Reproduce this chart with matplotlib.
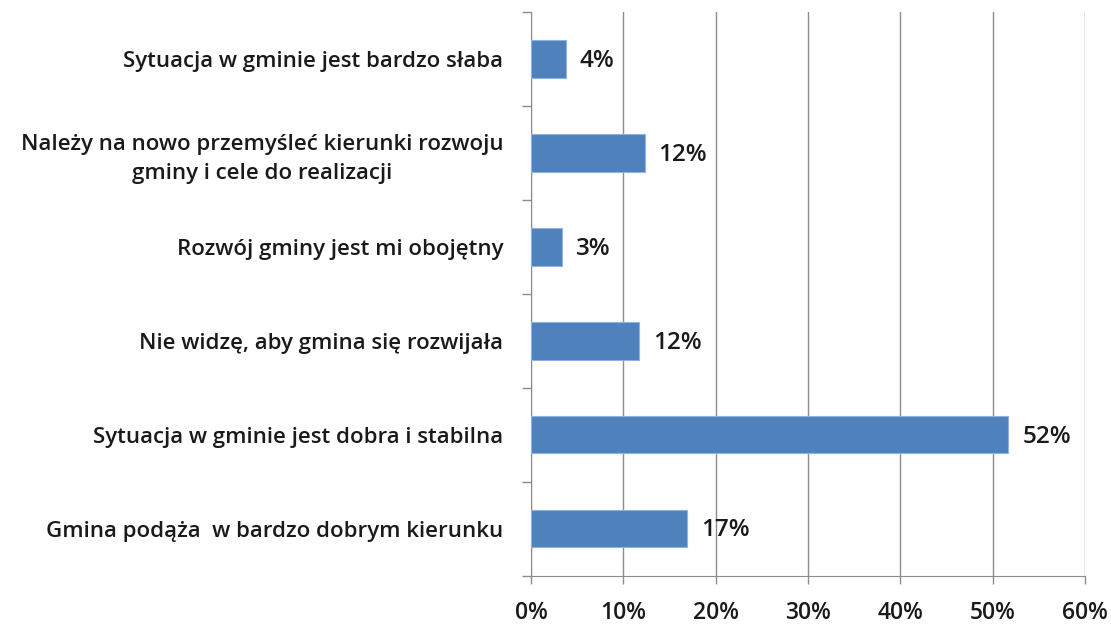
import matplotlib.pyplot as plt
import numpy as np

categories = [
    'Gmina podąża  w bardzo dobrym kierunku',
    'Sytuacja w gminie jest dobra i stabilna',
    'Nie widzę, aby gmina się rozwijała',
    'Rozwój gminy jest mi obojętny',
    'Należy na nowo przemyśleć kierunki rozwoju\ngminy i cele do realizacji',
    'Sytuacja w gminie jest bardzo słaba',
]
values = [16.9, 51.7, 11.7, 3.4, 12.3, 3.8]
value_labels = ['17%', '52%', '12%', '3%', '12%', '4%']
x_ticks = [0, 10, 20, 30, 40, 50, 60]


def main():
    plt.rcParams['font.family'] = ['Open Sans', 'DejaVu Sans']
    fig = plt.figure(figsize=(11.11, 6.27), dpi=100)
    ax = fig.add_axes([0.478, 0.082, 0.4986, 0.899])

    y = np.arange(len(categories))
    ax.barh(y, values, height=0.4, color='#4F81BD', edgecolor='#8DB3E2',
            linewidth=0.8, zorder=3)

    for yi, v, lab in zip(y, values, value_labels):
        ax.text(v + 1.5, yi - 0.02, lab, va='center', ha='left',
                fontsize=17.5, fontweight='semibold', color='#1a1a1a')

    ax.set_xlim(0, 60)
    ax.set_ylim(-0.5, len(categories) - 0.5)
    ax.set_xticks(x_ticks)
    ax.set_xticklabels([f'{t}%' for t in x_ticks])
    ax.set_yticks(y)
    ax.set_yticklabels(categories, ha='right', multialignment='center',
                       linespacing=1.45)
    ax.set_yticks(np.arange(-0.5, len(categories), 1), minor=True)

    ax.xaxis.grid(True, color='#8c8c8c', linewidth=1, zorder=0)
    ax.tick_params(axis='y', which='major', length=0, pad=20,
                   labelsize=16)
    ax.tick_params(axis='y', which='minor', length=6.5, width=1,
                   color='#8c8c8c', direction='out')
    ax.tick_params(axis='x', length=6, width=1, color='#8c8c8c', pad=12,
                   labelsize=16.5)
    for lbl in ax.get_yticklabels() + ax.get_xticklabels():
        lbl.set_fontweight('semibold')
        lbl.set_color('#1a1a1a')

    ax.spines['top'].set_visible(False)
    ax.spines['right'].set_visible(False)
    ax.spines['left'].set_color('#8c8c8c')
    ax.spines['bottom'].set_color('#8c8c8c')

    fig.savefig('out.png', dpi=100)


if __name__ == '__main__':
    main()
